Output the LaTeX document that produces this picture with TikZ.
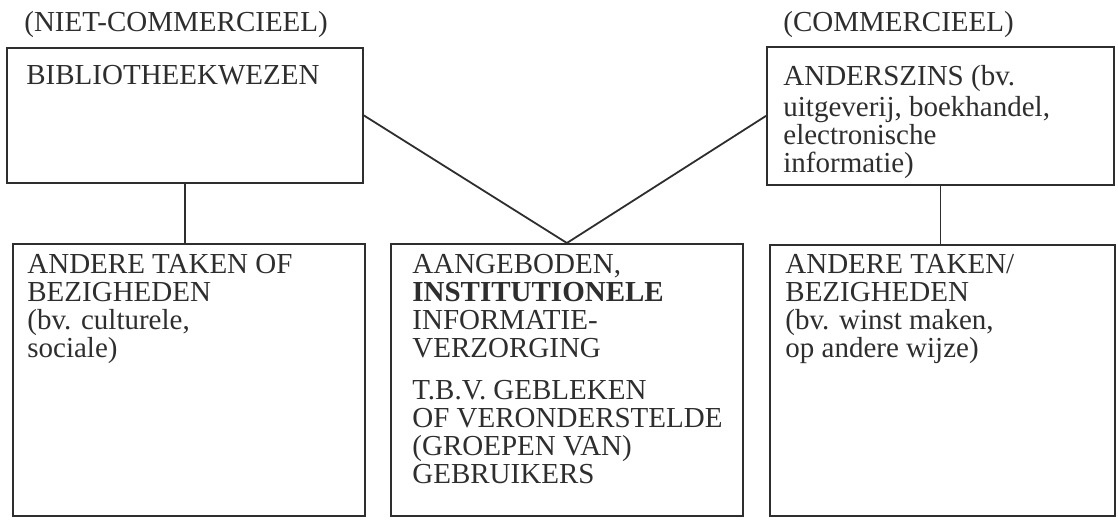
\documentclass[tikz,border=0pt]{standalone}
\usepackage{fontspec}
\setmainfont{Liberation Serif}
\usetikzlibrary{positioning,calc}
\colorlet{inkgray}{black!82}

\begin{document}
\begin{tikzpicture}[x=0.5pt,y=-0.5pt,
    every node/.style={text=inkgray,font=\fontsize{14.5}{14}\selectfont},
    box/.style={draw=inkgray,line width=0.9pt,inner sep=0pt,anchor=north west},
    txt/.style={anchor=north west,inner sep=0pt,align=left},
    link/.style={draw=inkgray,line width=0.9pt}]
  \useasboundingbox (0,0) rectangle (1118,525);
  % column headings
  \node[anchor=base west,inner sep=0pt] (nietcom) at (24,31) {(NIET-COMMERCIEEL)};
  \node[anchor=base west,inner sep=0pt] (com) at (783,31) {(COMMERCIEEL)};
  % boxes
  \node[box,minimum width=178pt,minimum height=67.5pt] (bib) at (6,47) {};
  \node[box,minimum width=173.5pt,minimum height=69pt] (ander) at (766,46) {};
  \node[box,minimum width=176pt,minimum height=136pt] (lbot) at (12,243) {};
  \node[box,minimum width=176pt,minimum height=136pt] (mid) at (390,243) {};
  \node[box,minimum width=172.5pt,minimum height=135.5pt] (rbot) at (769,244) {};
  % texts in the boxes
  \node[txt] (bibtxt) at ($(bib.north west)+(20,17)$) {\strut BIBLIOTHEEKWEZEN};
  \node[txt] (andertxt) at ($(ander.north west)+(17,19)$) {\strut ANDERSZINS (bv.\\ uitgeverij, boekhandel,\\ electronische\\ informatie)};
  \node[txt] (lbottxt) at ($(lbot.north west)+(15,10)$) {\strut ANDERE TAKEN OF\\ BEZIGHEDEN\\ (bv. culturele,\\ sociale)};
  \node[txt] (midtxt) at ($(mid.north west)+(22,10)$) {\strut AANGEBODEN,\\ \textbf{INSTITUTIONELE}\\ INFORMATIE-\\ VERZORGING\\[7pt] T.B.V. GEBLEKEN\\ OF VERONDERSTELDE\\ (GROEPEN VAN)\\ GEBRUIKERS};
  \node[txt] (rbottxt) at ($(rbot.north west)+(16,9)$) {\strut ANDERE TAKEN/\\ BEZIGHEDEN\\ (bv. winst maken,\\ op andere wijze)};
  % connectors
  \draw[link] (bib.south) -- (bib.south |- lbot.north);
  \draw[link] (ander.south) -- (ander.south |- rbot.north);
  \draw[link] (bib.east) -- (mid.north);
  \draw[link] (ander.west) -- (mid.north);
\end{tikzpicture}
\end{document}
